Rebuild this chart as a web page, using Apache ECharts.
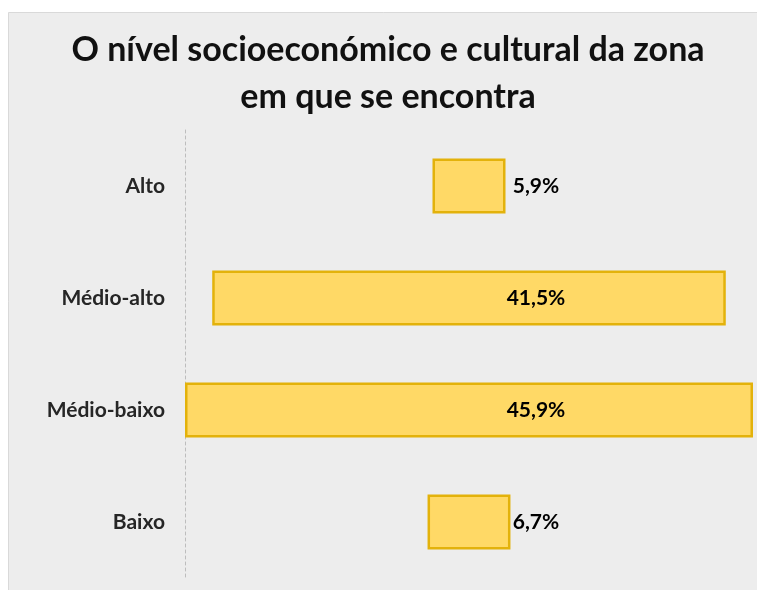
<!DOCTYPE html>
<html>
<head>
<meta charset="utf-8">
<script src="https://cdn.jsdelivr.net/npm/echarts@6/dist/echarts.min.js"></script>
<style>
  html, body { margin: 0; padding: 0; background: #fff; }
  #chart { width: 757px; height: 590px; }
</style>
</head>
<body>
<div id="chart"></div>
<script>
var categories = ['Alto', 'Médio-alto', 'Médio-baixo', 'Baixo'];
var values = [5.9, 41.5, 45.9, 6.7];

var maxValue = Math.max.apply(null, values);
// espaço transparente à esquerda para centrar as barras
var offsets = values.map(function (v) { return (maxValue - v) / 2; });

var chart = echarts.init(document.getElementById('chart'));

var option = {
  backgroundColor: '#ffffff',
  animation: false,
  graphic: [{
    type: 'rect',
    z: -10,
    shape: { x: 8.5, y: 12.5, width: 760, height: 580 },
    style: { fill: '#ededed', stroke: '#d9d9d9', lineWidth: 1 }
  }, {
    type: 'text',
    x: 388,
    y: 74,
    style: {
      text: 'O nível socioeconómico e cultural da zona\nem que se encontra',
      fill: '#111',
      font: 'bold 34px Lato, "Open Sans", sans-serif',
      lineHeight: 47,
      align: 'center',
      verticalAlign: 'middle'
    }
  }],
  grid: {
    left: 185,
    right: 4,
    top: 130,
    bottom: 12
  },
  xAxis: {
    type: 'value',
    min: 0,
    max: maxValue,
    show: false
  },
  yAxis: {
    type: 'category',
    data: categories,
    inverse: true,
    axisTick: { show: false },
    axisLine: {
      show: true,
      lineStyle: { color: '#bdbdbd', type: [3, 3], width: 1 }
    },
    axisLabel: {
      margin: 20,
      color: '#262626',
      fontFamily: 'Lato, "Open Sans", sans-serif',
      fontWeight: 'bold',
      fontSize: 21
    }
  },
  series: [{
    type: 'bar',
    stack: 'total',
    data: offsets,
    barWidth: 55,
    itemStyle: { color: 'transparent' },
    silent: true
  }, {
    type: 'bar',
    stack: 'total',
    data: values,
    barWidth: 55,
    itemStyle: {
      color: '#ffd966',
      borderColor: '#e3b20b',
      borderWidth: 2.5
    },
    label: {
      show: true,
      position: 'inside',
      offset: [67, 0],
      color: '#000',
      fontFamily: 'Lato, "Open Sans", sans-serif',
      fontWeight: 'bold',
      fontSize: 21,
      formatter: function (p) {
        return p.value.toFixed(1).replace('.', ',') + '%';
      }
    }
  }]
};

chart.setOption(option);
</script>
</body>
</html>
